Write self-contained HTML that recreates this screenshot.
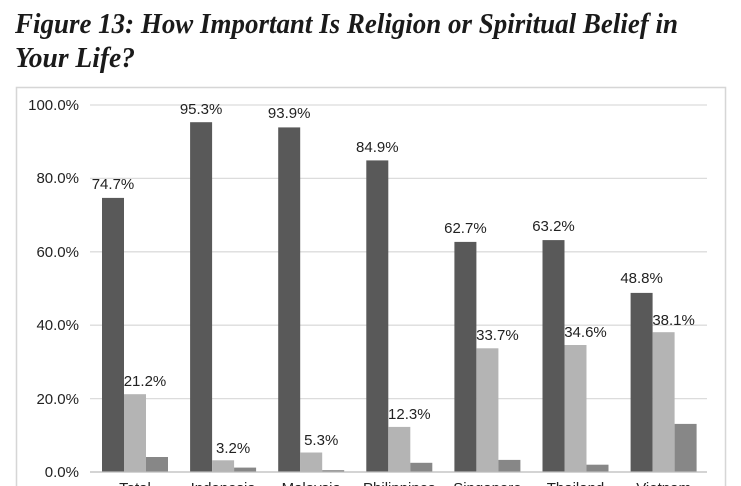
<!DOCTYPE html>
<html><head><meta charset="utf-8"><style>
html,body{margin:0;padding:0;background:#fff;}
svg{display:block;}
</style></head><body>
<svg width="741" height="486" viewBox="0 0 741 486" xmlns="http://www.w3.org/2000/svg">
<rect width="741" height="486" fill="#fff"/>
<g font-family="Liberation Serif, serif" font-weight="bold" font-style="italic" font-size="28" fill="#1a1a1a">
<text x="15" y="33" textLength="663" lengthAdjust="spacingAndGlyphs">Figure 13: How Important Is Religion or Spiritual Belief in</text>
<text x="15" y="67" textLength="120" lengthAdjust="spacingAndGlyphs">Your Life?</text>
</g>
<rect x="16.5" y="87.5" width="709" height="410" fill="none" stroke="#d6d6d6" stroke-width="1.5"/>
<g stroke="#dcdcdc" stroke-width="1.3">
<line x1="90" y1="105" x2="707" y2="105"/>
<line x1="90" y1="178.4" x2="707" y2="178.4"/>
<line x1="90" y1="251.8" x2="707" y2="251.8"/>
<line x1="90" y1="325.2" x2="707" y2="325.2"/>
<line x1="90" y1="398.6" x2="707" y2="398.6"/>
</g>
<g font-family="Liberation Sans, sans-serif" font-size="15" fill="#222" text-anchor="end">
<text x="79" y="110">100.0%</text>
<text x="79" y="183">80.0%</text>
<text x="79" y="257">60.0%</text>
<text x="79" y="330">40.0%</text>
<text x="79" y="404">20.0%</text>
<text x="79" y="477">0.0%</text>
</g>
<g fill="#595959">
<rect x="102" y="197.9" width="22" height="274.1"/>
<rect x="190.1" y="122.2" width="22" height="349.8"/>
<rect x="278.2" y="127.4" width="22" height="344.6"/>
<rect x="366.3" y="160.4" width="22" height="311.6"/>
<rect x="454.4" y="241.9" width="22" height="230.1"/>
<rect x="542.5" y="240.1" width="22" height="231.9"/>
<rect x="630.6" y="292.9" width="22" height="179.1"/>
</g>
<g fill="#b4b4b4">
<rect x="124" y="394.2" width="22" height="77.8"/>
<rect x="212.1" y="460.3" width="22" height="11.7"/>
<rect x="300.2" y="452.5" width="22" height="19.5"/>
<rect x="388.3" y="426.9" width="22" height="45.1"/>
<rect x="476.4" y="348.3" width="22" height="123.7"/>
<rect x="564.5" y="345.0" width="22" height="127.0"/>
<rect x="652.6" y="332.2" width="22" height="139.8"/>
</g>
<g fill="#878787">
<rect x="146" y="457.0" width="22" height="15.0"/>
<rect x="234.1" y="467.6" width="22" height="4.4"/>
<rect x="322.2" y="470.2" width="22" height="1.8"/>
<rect x="410.3" y="462.8" width="22" height="9.2"/>
<rect x="498.4" y="459.9" width="22" height="12.1"/>
<rect x="586.5" y="464.7" width="22" height="7.3"/>
<rect x="674.6" y="423.9" width="22" height="48.1"/>
</g>
<line x1="90" y1="472" x2="707" y2="472" stroke="#bbb" stroke-width="1.3"/>
<g font-family="Liberation Sans, sans-serif" font-size="15" fill="#222" text-anchor="middle">
<text x="113" y="189">74.7%</text>
<text x="201.1" y="114">95.3%</text>
<text x="289.2" y="118">93.9%</text>
<text x="377.3" y="152">84.9%</text>
<text x="465.4" y="233">62.7%</text>
<text x="553.5" y="231">63.2%</text>
<text x="641.6" y="283">48.8%</text>
<text x="145" y="386">21.2%</text>
<text x="233.1" y="453">3.2%</text>
<text x="321.2" y="445">5.3%</text>
<text x="409.3" y="419">12.3%</text>
<text x="497.4" y="340">33.7%</text>
<text x="585.5" y="337">34.6%</text>
<text x="673.6" y="325">38.1%</text>
</g>
<g font-family="Liberation Sans, sans-serif" font-size="15" fill="#222" text-anchor="middle">
<text x="135" y="493">Total</text>
<text x="223.1" y="493">Indonesia</text>
<text x="311.2" y="493">Malaysia</text>
<text x="399.3" y="493">Philippines</text>
<text x="487.4" y="493">Singapore</text>
<text x="575.5" y="493">Thailand</text>
<text x="663.6" y="493">Vietnam</text>
</g>
</svg>
</body></html>
